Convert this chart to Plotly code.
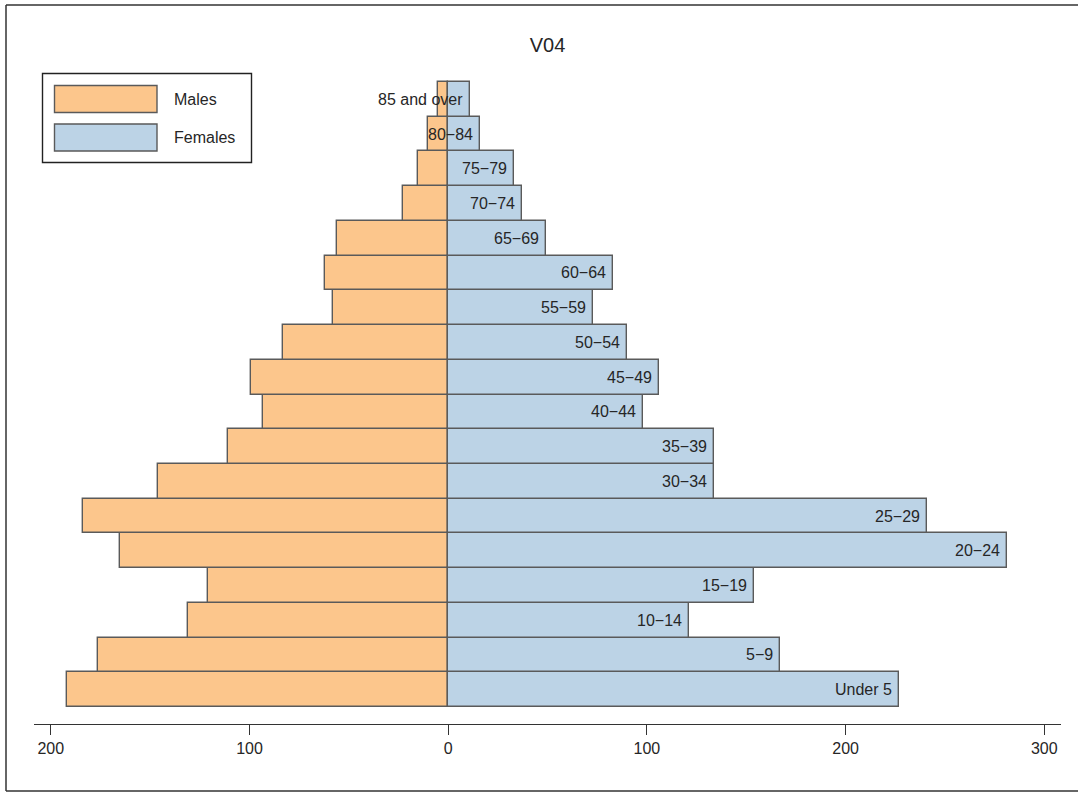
import plotly.graph_objects as go

# Age groups, youngest first (bottom of the pyramid)
age_groups = ["Under 5", "5−9", "10−14", "15−19", "20−24", "25−29", "30−34",
              "35−39", "40−44", "45−49", "50−54", "55−59", "60−64", "65−69",
              "70−74", "75−79", "80−84", "85 and over"]
males = [192, 176, 131, 121, 165, 184, 146, 111, 93, 99, 83, 58, 62, 56, 23, 15, 10, 5]
females = [227, 167, 121, 154, 281, 241, 134, 134, 98, 106, 90, 73, 83, 49, 37, 33, 16, 11]

tick_vals = [-200, -100, 0, 100, 200, 300]
tick_text = ["200", "100", "0", "100", "200", "300"]

title_text = "V04"
legend_names = ["Males", "Females"]

MALE_COLOR = "#FCC68C"
FEMALE_COLOR = "#BCD3E6"
EDGE = "#5a5a5a"
FONT = "Liberation Sans, Arial, Helvetica, sans-serif"
TEXT = "#262626"

W, H = 1078, 793
L, R, T, B = 34, 17, 40, 69
plot_w = W - L - R
plot_h = H - T - B

# horizontal scale: pixel of zero and pixels per unit
zero_px = 448.2
unit_px = 1.987

# row height in pixels and bar block extents
row_px = 34.72
bars_bottom_px = 707
bars_top_px = 82
y_lo = -0.5 - ((H - B) - bars_bottom_px) / row_px
y_hi = len(age_groups) - 0.5 + (bars_top_px - T) / row_px


def px_x(p):
    return (p - L) / plot_w


def px_y(p):
    return 1 - (p - T) / plot_h


ypos = list(range(len(age_groups)))

fig = go.Figure()
fig.add_trace(go.Bar(
    y=ypos, x=[-v for v in males], orientation="h", width=1.0,
    marker=dict(color=MALE_COLOR, line=dict(color=EDGE, width=1.4)),
    name=legend_names[0], showlegend=False, hoverinfo="skip",
))
fig.add_trace(go.Bar(
    y=ypos, x=females, orientation="h", width=1.0,
    marker=dict(color=FEMALE_COLOR, line=dict(color=EDGE, width=1.4)),
    name=legend_names[1], showlegend=False, hoverinfo="skip",
))

# age-group labels right-aligned at the end of each female bar
for i, (lab, f) in enumerate(zip(age_groups, females)):
    fig.add_annotation(x=f, y=i, xref="x", yref="y", text=lab, showarrow=False,
                       xanchor="right", yanchor="middle", xshift=-5,
                       font=dict(family=FONT, size=16, color=TEXT))

shapes = []
# outer frame (left, top, bottom edges)
frame = dict(type="line", xref="paper", yref="paper",
             line=dict(color="#333333", width=1.5), layer="above")
shapes.append(dict(frame, x0=px_x(6), x1=px_x(6), y0=px_y(5), y1=px_y(791)))
shapes.append(dict(frame, x0=px_x(6), x1=px_x(W + 2), y0=px_y(5), y1=px_y(5)))
shapes.append(dict(frame, x0=px_x(6), x1=px_x(W + 2), y0=px_y(791), y1=px_y(791)))

# legend box with swatches
shapes.append(dict(type="rect", xref="paper", yref="paper",
                   x0=px_x(42.5), x1=px_x(251.5), y0=px_y(73.5), y1=px_y(162.5),
                   line=dict(color="#222222", width=1.4), fillcolor="white"))
swatches = [(MALE_COLOR, 85.5, 112.5), (FEMALE_COLOR, 124, 151)]
for (col, top, bot), name in zip(swatches, legend_names):
    shapes.append(dict(type="rect", xref="paper", yref="paper",
                       x0=px_x(54.5), x1=px_x(157), y0=px_y(top), y1=px_y(bot),
                       line=dict(color=EDGE, width=1.4), fillcolor=col))
    fig.add_annotation(x=px_x(172), y=px_y((top + bot) / 2), xref="paper", yref="paper",
                       text=name, showarrow=False, xanchor="left", yanchor="middle",
                       font=dict(family=FONT, size=16, color=TEXT))

fig.update_layout(
    width=W, height=H,
    margin=dict(l=L, r=R, t=T, b=B),
    paper_bgcolor="white", plot_bgcolor="white",
    barmode="overlay", bargap=0,
    shapes=shapes,
    title=dict(text=title_text, x=0.5, xref="paper",
               y=1 - 45 / H, yref="container", xanchor="center", yanchor="middle",
               font=dict(family=FONT, size=20, color=TEXT)),
    xaxis=dict(range=[(L - zero_px) / unit_px, (W - R - zero_px) / unit_px],
               tickvals=tick_vals, ticktext=tick_text,
               showline=True, linecolor="#333333", linewidth=1.4,
               ticks="outside", ticklen=10, tickwidth=1.4, tickcolor="#333333",
               showgrid=False, zeroline=False, fixedrange=True,
               tickfont=dict(family=FONT, size=16, color=TEXT)),
    yaxis=dict(range=[y_lo, y_hi], visible=False, showgrid=False, zeroline=False),
)

fig.write_html("out.html")
